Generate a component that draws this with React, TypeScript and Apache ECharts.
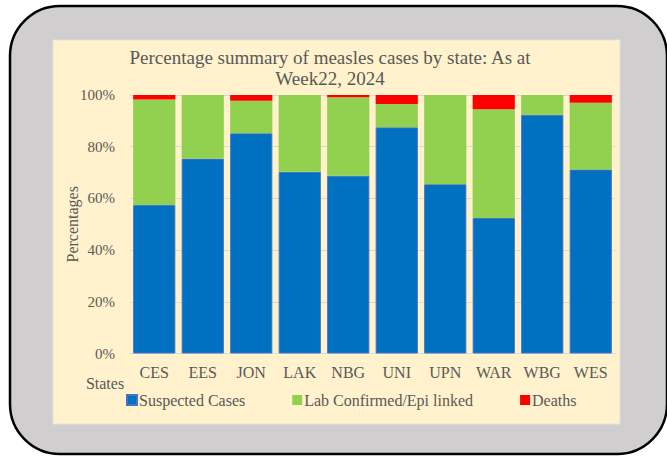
import React, { useEffect, useRef } from "react";
import * as echarts from "echarts";

const states = ["CES", "EES", "JON", "LAK", "NBG", "UNI", "UPN", "WAR", "WBG", "WES"];
const suspected = [57.4, 75.4, 85.2, 70.3, 68.8, 87.5, 65.5, 52.4, 92.4, 71.2];
const labConfirmed = [40.9, 24.6, 12.6, 29.7, 30.3, 9.0, 34.5, 42.1, 7.6, 25.8];
const deaths = [1.7, 0, 2.2, 0, 0.9, 3.5, 0, 5.5, 0, 3.0];
const yTicks = [0, 20, 40, 60, 80, 100];

const FONT = "Liberation Serif";
const TXT = "#595959";

export default function App() {
  const ref = useRef<HTMLDivElement>(null);
  useEffect(() => {
    document.body.style.margin = "0";
    const chart = echarts.init(ref.current!, null, { renderer: "svg" });
    chart.setOption({
      animation: false,
      textStyle: { fontFamily: FONT },
      graphic: [
        {
          type: "rect",
          z: -10,
          silent: true,
          shape: { x: 10, y: 6, width: 657, height: 448, r: 50 },
          style: { fill: "#D0CECE", stroke: "#000", lineWidth: 2.5 },
        },
        {
          type: "rect",
          z: -9,
          silent: true,
          shape: { x: 53, y: 40, width: 567, height: 384 },
          style: { fill: "#FFF2CC", stroke: "#E3E3E3", lineWidth: 1 },
        },
        {
          type: "text",
          x: 105,
          y: 383,
          style: {
            text: "States",
            fontFamily: FONT,
            fontSize: 16,
            fill: TXT,
            align: "center",
            verticalAlign: "middle",
          },
        },
      ],
      title: {
        text: "Percentage summary of measles cases by state: As at\nWeek22, 2024",
        left: 325,
        textAlign: "center",
        top: 42,
        textStyle: { fontFamily: FONT, fontSize: 19, fontWeight: "normal", color: TXT, lineHeight: 21 },
      },
      legend: {
        left: 121,
        top: 387,
        itemWidth: 10,
        itemHeight: 10,
        itemGap: 47,
        icon: "rect",
        textStyle: { fontFamily: FONT, fontSize: 16, color: TXT, padding: [0, 0, 0, -3] },
        data: ["Suspected Cases", "Lab Confirmed/Epi linked", "Deaths"],
      },
      grid: { left: 130, right: 52, top: 95, bottom: 102.5 },
      xAxis: {
        type: "category",
        data: states,
        axisLine: { lineStyle: { color: "#D9D9D9", width: 1 } },
        axisTick: { show: false },
        axisLabel: { fontFamily: FONT, fontSize: 16, color: TXT, margin: 11, interval: 0 },
      },
      yAxis: {
        type: "value",
        min: yTicks[0],
        max: yTicks[yTicks.length - 1],
        interval: 20,
        name: "Percentages",
        nameLocation: "middle",
        nameGap: 50,
        nameMoveOverlap: false,
        nameTextStyle: { fontFamily: FONT, fontSize: 16, color: TXT },
        axisLine: { show: false },
        axisTick: { show: false },
        splitLine: { lineStyle: { color: "#D9D9D9" } },
        axisLabel: {
          fontFamily: FONT,
          fontSize: 15,
          color: TXT,
          margin: 15,
          formatter: (v: number) => v + "%",
        },
      },
      series: [
        {
          name: "Suspected Cases",
          type: "bar",
          stack: "s",
          data: suspected,
          barCategoryGap: "13%",
          itemStyle: { color: "#0070C0", borderColor: "#4472C4", borderWidth: 1 },
        },
        {
          name: "Lab Confirmed/Epi linked",
          type: "bar",
          stack: "s",
          data: labConfirmed,
          itemStyle: { color: "#92D050" },
        },
        {
          name: "Deaths",
          type: "bar",
          stack: "s",
          data: deaths,
          itemStyle: { color: "#FF0000" },
        },
      ],
    });
    return () => chart.dispose();
  }, []);
  return <div ref={ref} style={{ width: 667, height: 456 }} />;
}
